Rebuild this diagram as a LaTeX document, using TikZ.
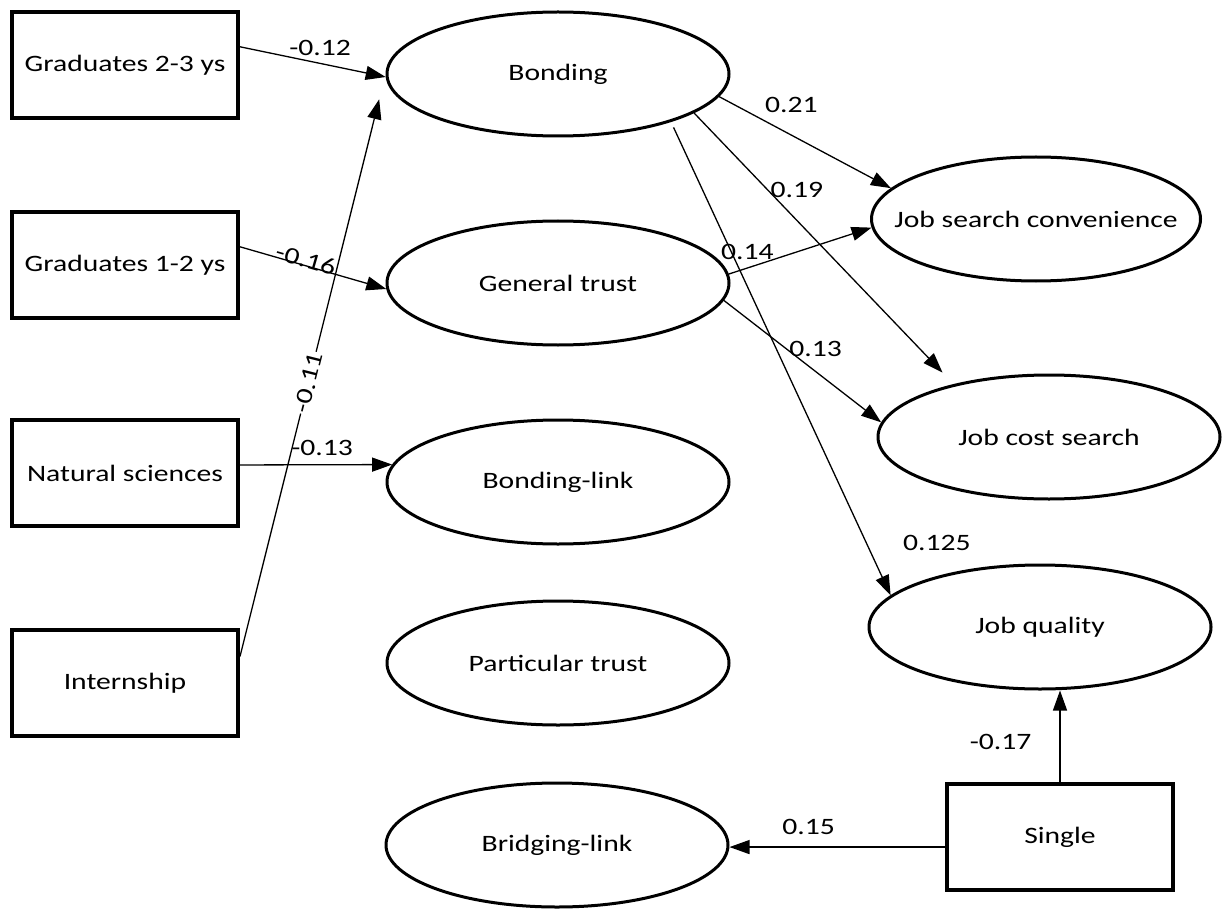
\documentclass[tikz,border=0pt]{standalone}
\usepackage{fontspec}
\setmainfont{Carlito}[FakeStretch=1.26]
\usetikzlibrary{arrows.meta,shapes.geometric}

\begin{document}
\begin{tikzpicture}[x=1pt,y=-1pt]
% y is negative so that coordinates can be read off the image (origin top left)

% style
\tikzset{
    every node/.style={font=\fontsize{23.5}{28}\selectfont},
    obsBox/.style={draw, line width=4.2pt, minimum width=225.8pt, minimum height=105.8pt, inner sep=0pt},
    latentEll/.style={ellipse, draw, line width=3pt, minimum width=342pt, minimum height=124pt, inner sep=0pt},
    arrowLine/.style={draw, line width=1.3pt, -{Triangle[length=20pt, width=14pt]}},
    coef/.style={inner sep=2pt}
}

\useasboundingbox (0,0) rectangle (1222,909);

% observed variables
\foreach \name/\x/\y/\txt in {
    grad23/125/65/Graduates 2-3 ys,
    grad12/125/265/Graduates 1-2 ys,
    natsci/125/473/Natural sciences,
    intern/125/683/Internship,
    single/1060/837/Single
} {
    \node[obsBox] (\name) at (\x,\y) {\txt};
}

% latent variables
\foreach \name/\x/\y/\w/\txt in {
    bond/558/74/342/Bonding,
    gtrust/558/283/342/General trust,
    blink/558/482/342/Bonding-link,
    ptrust/558/663/342/Particular trust,
    brlink/557/845/342/Bridging-link,
    jsc/1036/219/329/Job search convenience,
    jcs/1049/437/342/Job cost search,
    jq/1040/627/342/Job quality
} {
    \node[latentEll, minimum width=\w pt, label=center:\txt] (\name) at (\x,\y) {};
}

% arrows
\draw[arrowLine] (grad23.9) -- (bond.181) node[coef, pos=0.55, above=5pt] (c1) {-0.12};
\draw[arrowLine] (grad12.9) -- (gtrust.182) node[coef, pos=0.44, sloped, above=-5pt] (c2) {-0.16};
\draw[arrowLine, shorten >=26pt] (intern.13) -- (bond.west) node[coef, pos=0.47, sloped, fill=white, inner sep=1pt] (c3) {-0.11};
\draw[arrowLine] (natsci.4) -- (blink.174) node[coef, pos=0.54, above=6.5pt] (c4) {-0.13};
\draw[arrowLine] (bond.-8) -- (jsc.168) node[coef, pos=0.42, above=20pt] (c5) {0.21};
\draw[arrowLine, shorten >=16pt] (bond.-16) -- (jcs.151) node[coef, pos=0.285, right] (c6) {0.19};
\draw[arrowLine, shorten <=6pt] (bond.-23) -- (jq.168) node[coef, pos=0.89, right=34pt] (c7) {0.125};
\draw[arrowLine] (gtrust.3) -- (jsc.183) node[coef, pos=0.13, above=6pt] (c8) {0.14};
\draw[arrowLine] (gtrust.-6) -- (jcs.175) node[coef, pos=0.4, right] (c9) {0.13};
\draw[arrowLine] (single.north) -- (single.north |- jq.south) node[coef, pos=0.44, left=26pt] (c10) {-0.17};
\draw[arrowLine] (single.185) -- (single.185 -| brlink.east) node[coef, pos=0.633, above=10pt] (c11) {0.15};

\end{tikzpicture}
\end{document}
